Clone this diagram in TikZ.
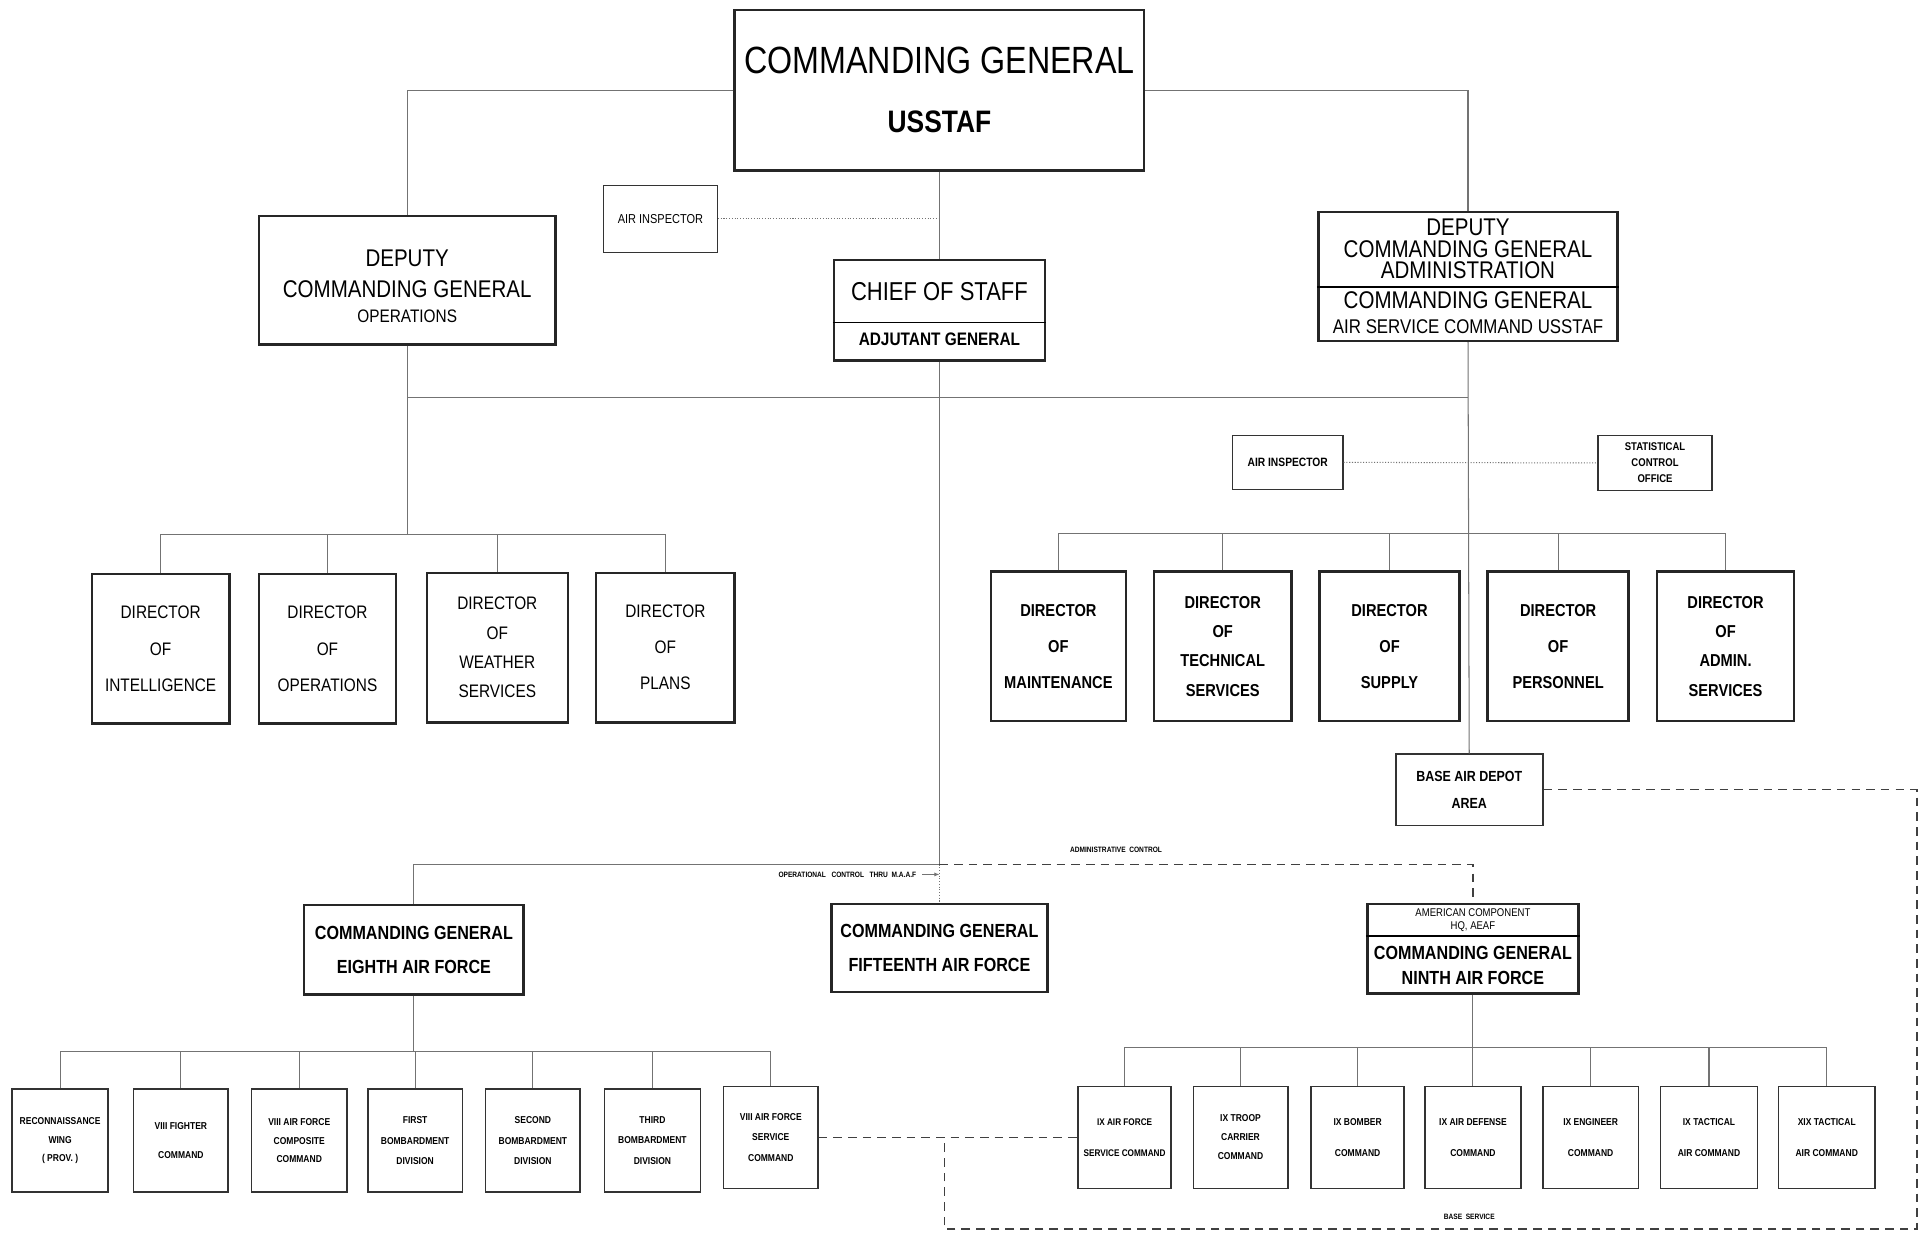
\documentclass[tikz,border=0pt]{standalone}
\usepackage{fontspec}
\setmainfont{Liberation Sans}[FakeStretch=0.85]
\usetikzlibrary{fit,arrows.meta,calc}
\tikzset{
 box/.style={draw=black!85, line width=1.4pt, inner sep=0pt},
 sbox/.style={draw=black!80, line width=0.9pt, inner sep=0pt},
 conn/.style={draw=black!55, line width=0.6pt},
 dotc/.style={draw=black!55, line width=0.6pt, densely dotted},
 dashc/.style={draw=black!75, line width=0.8pt, dash pattern=on 5pt off 3.5pt},
 fs/.style args={#1/#2}{font=\fontsize{#1}{#2}\selectfont},
 fsb/.style args={#1/#2}{font=\fontsize{#1}{#2}\selectfont\bfseries},
}
% box style, fit corners, name, text style, text
\newcommand\obox[5]{\node[#1, fit={#2}] (#3) {};
  \node[align=center, inner sep=0pt, #4] (#3t) at (#3.center) {#5};}
\begin{document}
\begin{tikzpicture}[x=0.025cm, y=-0.025cm]
\useasboundingbox (0,0) rectangle (1568,1005);
\fill[white] (0,0) rectangle (1568,1005);

% ---------- top level
\obox{box}{(599,8)(933,139)}{cg}{fs=22/34}{COMMANDING GENERAL\\{\bfseries\fontsize{18}{34}\selectfont USSTAF}}
\obox{sbox, line width=0.6pt}{(492,151)(585,206)}{ai1}{fs=7.5/9}{AIR INSPECTOR}
\obox{box}{(211,176)(453,281)}{dops}{fs=14/18, yshift=-3.5pt}{DEPUTY\\COMMANDING GENERAL\\[-3pt]{\fontsize{10.5}{14}\selectfont OPERATIONS}}

\node[box, fit={(680,212)(852,294)}] (cos) {};
\coordinate (cosd) at (0,263);
\draw[line width=1pt] (cos.west |- cosd) -- (cos.east |- cosd);
\node[fs=15/18] (cost) at (766,238) {CHIEF OF STAFF};
\node[fsb=10.5/14] (cosb) at (766,277) {ADJUTANT GENERAL};

\node[box, fit={(1075,173)(1319,278)}] (dadm) {};
\coordinate (dadmd) at (0,234);
\draw[line width=1pt] (dadm.west |- dadmd) -- (dadm.east |- dadmd);
\node[fs=14/12.5, align=center] (dadmt) at (1197,203) {DEPUTY\\COMMANDING GENERAL\\ADMINISTRATION};
\node[fs=14/14.5, align=center] (dadmb) at (1197,255) {COMMANDING GENERAL\\{\fontsize{11.5}{14.5}\selectfont AIR SERVICE COMMAND USSTAF}};

\obox{sbox}{(1005,355)(1095,399)}{ai2}{fsb=7/9}{AIR INSPECTOR}
\obox{sbox}{(1303,355)(1396,400)}{sco}{fsb=6.5/9.2}{STATISTICAL\\CONTROL\\OFFICE}

% ---------- directors (operations)
\obox{box}{(75,468)(187,590)}{d1}{fs=10.5/21}{DIRECTOR\\OF\\INTELLIGENCE}
\obox{box}{(211,468)(323,590)}{d2}{fs=10.5/21}{DIRECTOR\\OF\\OPERATIONS}
\obox{box}{(348,467)(463,589)}{d3}{fs=10.5/17}{DIRECTOR\\OF\\WEATHER\\SERVICES}
\obox{box}{(486,467)(599,589)}{d4}{fs=10.5/21}{DIRECTOR\\OF\\PLANS}

% ---------- directors (administration)
\obox{box}{(808,466)(918,588)}{r1}{fsb=10/21}{DIRECTOR\\OF\\MAINTENANCE}
\obox{box}{(941,466)(1053,588)}{r2}{fsb=10/17}{DIRECTOR\\OF\\TECHNICAL\\SERVICES}
\obox{box}{(1076,466)(1190,588)}{r3}{fsb=10/21}{DIRECTOR\\OF\\SUPPLY}
\obox{box}{(1213,466)(1328,588)}{r4}{fsb=10/21}{DIRECTOR\\OF\\PERSONNEL}
\obox{box}{(1351,466)(1463,588)}{r5}{fsb=10/17}{DIRECTOR\\OF\\ADMIN.\\SERVICES}

\obox{sbox, line width=1pt}{(1138,615)(1258,673)}{bad}{fsb=8.5/15.6}{BASE AIR DEPOT\\AREA}

% ---------- air forces
\obox{box}{(248,738)(427,811)}{e8}{fsb=11/20}{COMMANDING GENERAL\\EIGHTH AIR FORCE}
\obox{box}{(678,737)(854,809)}{f15}{fsb=11/20}{COMMANDING GENERAL\\FIFTEENTH AIR FORCE}
\node[box, fit={(1115,737)(1287,810)}] (n9) {};
\coordinate (n9d) at (0,763);
\draw[line width=0.9pt] (n9.west |- n9d) -- (n9.east |- n9d);
\node[fs=6.5/7.5, align=center] (n9t) at (1201,750) {AMERICAN COMPONENT\\HQ, AEAF};
\node[fsb=11/14.5, align=center] (n9b) at (1201,787) {COMMANDING GENERAL\\NINTH AIR FORCE};

% ---------- eighth air force units
\obox{sbox}{(10,888)(88,972)}{e1}{fsb=5.8/10.7}{RECONNAISSANCE\\WING\\( PROV. )}
\obox{sbox}{(109,888)(186,972)}{e2}{fsb=5.8/17}{VIII FIGHTER\\COMMAND}
\obox{sbox}{(205,888)(283,972)}{e3}{fsb=5.8/10.7}{VIII AIR FORCE\\COMPOSITE\\COMMAND}
\obox{sbox}{(300,888)(377,972)}{e4}{fsb=5.8/11.7}{FIRST\\BOMBARDMENT\\DIVISION}
\obox{sbox}{(396,888)(473,972)}{e5}{fsb=5.8/11.7}{SECOND\\BOMBARDMENT\\DIVISION}
\obox{sbox}{(493,888)(571,972)}{e6}{fsb=5.8/11.7}{THIRD\\BOMBARDMENT\\DIVISION}
\obox{sbox}{(590,886)(667,969)}{e7}{fsb=5.8/11.7}{VIII AIR FORCE\\SERVICE\\COMMAND}

% ---------- ninth air force units
\obox{sbox}{(879,886)(955,969)}{n1}{fsb=5.6/17.8}{IX AIR FORCE\\SERVICE COMMAND}
\obox{sbox}{(973,886)(1050,969)}{n2}{fsb=5.8/11}{IX TROOP\\CARRIER\\COMMAND}
\obox{sbox}{(1069,886)(1145,969)}{n3}{fsb=5.8/17.8}{IX BOMBER\\COMMAND}
\obox{sbox}{(1162,886)(1240,969)}{n4}{fsb=5.8/17.8}{IX AIR DEFENSE\\COMMAND}
\obox{sbox}{(1258,886)(1336,969)}{n5}{fsb=5.8/17.8}{IX ENGINEER\\COMMAND}
\obox{sbox}{(1354,886)(1433,969)}{n6}{fsb=5.8/17.8}{IX TACTICAL\\AIR COMMAND}
\obox{sbox}{(1450,886)(1529,969)}{n7}{fsb=5.8/17.8}{XIX TACTICAL\\AIR COMMAND}

% ---------- connectors
\draw[conn] (cg.west) -| (dops.north);
\draw[conn] (cg.east) -| (dadm.north);
\draw[conn] (cg.south) -- (cos.north);
\draw[dotc] (ai1.east) -- (ai1.east -| cos.north);
\coordinate (y324) at (0,324);
\draw[conn] (dops.south |- y324) -- (dadm.south |- y324);

\coordinate (busL) at (0,436);
\draw[conn] (dops.south) -- (dops.south |- busL);
\draw[conn] (d1.north) |- (d4.north |- busL) -- (d4.north);
\draw[conn] (d2.north) -- (d2.north |- busL);
\draw[conn] (d3.north) -- (d3.north |- busL);

\coordinate (busR) at (0,435);
\draw[conn] (dadm.south) -- (bad.north);
\draw[dotc] (ai2.east) -- (sco.west);
\draw[conn] (r1.north) |- (r5.north |- busR) -- (r5.north);
\draw[conn] (r2.north) -- (r2.north |- busR);
\draw[conn] (r3.north) -- (r3.north |- busR);
\draw[conn] (r4.north) -- (r4.north |- busR);

\coordinate (y705) at (0,705);
\coordinate (opj) at (cos.south |- y705);
\draw[conn] (cos.south) -- (opj) -| (e8.north);
\draw[dotc] (opj) -- (f15.north);
\draw[dashc] (opj) -| (n9.north);
\node[fsb=4.5/6, anchor=south] (adml) at (910,700) {ADMINISTRATIVE\ \ CONTROL};
\node[fsb=4.5/6, anchor=east] (opl) at (752,713) {OPERATIONAL\ \ \ CONTROL\ \ \ THRU\ \ M.A.A.F};
\draw[conn, -{Latex[length=3pt,width=2.5pt]}] (opl.east) -- (opl.east -| opj);

\coordinate (bus8) at (0,857);
\draw[conn] (e8.south) -- (e8.south |- bus8);
\draw[conn] (e1.north) |- (e7.north |- bus8) -- (e7.north);
\draw[conn] (e2.north) -- (e2.north |- bus8);
\draw[conn] (e3.north) -- (e3.north |- bus8);
\draw[conn] (e4.north) -- (e4.north |- bus8);
\draw[conn] (e5.north) -- (e5.north |- bus8);
\draw[conn] (e6.north) -- (e6.north |- bus8);

\coordinate (bus9) at (0,854);
\draw[conn] (n9.south) -- (n9.south |- bus9);
\draw[conn] (n1.north) |- (n7.north |- bus9) -- (n7.north);
\draw[conn] (n2.north) -- (n2.north |- bus9);
\draw[conn] (n3.north) -- (n3.north |- bus9);
\draw[conn] (n4.north) -- (n4.north |- bus9);
\draw[conn] (n5.north) -- (n5.north |- bus9);
\draw[conn] (n6.north) -- (n6.north |- bus9);

\coordinate (bsR) at (1563,1002);
\coordinate (bsL) at (770,1002);
\draw[dashc] (bad.east) -| (bsR) -- (bsL) -- (bsL |- e7.east);
\draw[dashc] (e7.east) -- (n1.west);
\node[fsb=4.5/6, anchor=south] (bsl) at (1198,999) {BASE\ \ SERVICE};
\end{tikzpicture}
\end{document}
